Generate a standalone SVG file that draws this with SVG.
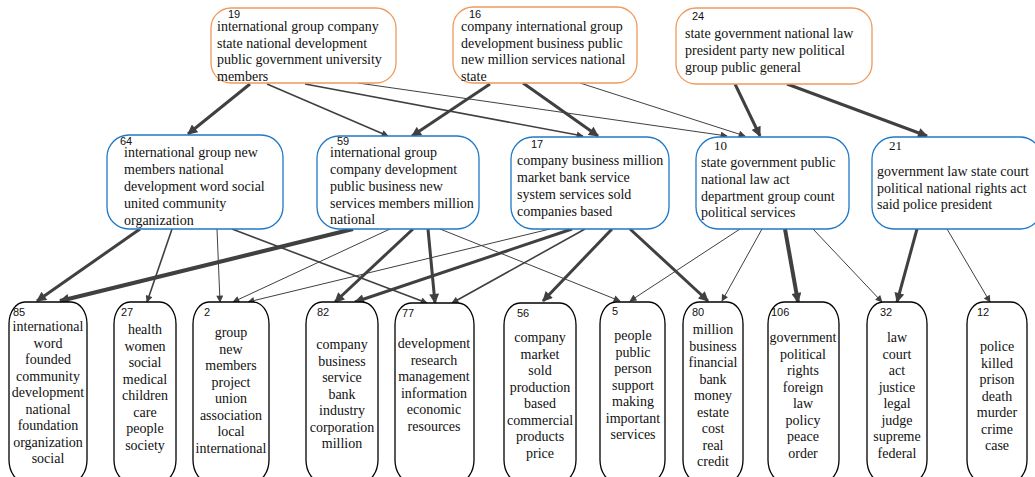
<svg xmlns="http://www.w3.org/2000/svg" width="1035" height="477" viewBox="0 0 1035 477">
<style>
.top{fill:#fff;stroke:#EE9A5C;stroke-width:1.3}
.mid{fill:#fff;stroke:#1F78C8;stroke-width:1.3}
.bot{fill:#fff;stroke:#000;stroke-width:1.3}
.t{font-family:"Liberation Serif","Times New Roman",serif;font-size:14px;fill:#111}
.c{text-anchor:middle}
.n{font-family:"Liberation Sans",Arial,sans-serif;font-size:11px;fill:#111}
.ns{font-family:"Liberation Serif",serif;font-size:13px;fill:#111}
#edges line{stroke:#404040;fill:none}
.e1{stroke-width:1;marker-end:url(#as)}
.e2{stroke-width:1.6;marker-end:url(#as)}
.e3{stroke-width:3;marker-end:url(#ab)}
.e4{stroke-width:4;marker-end:url(#ab)}
</style>
<defs>
<marker id="as" viewBox="0 0 10 10" refX="9" refY="5" markerUnits="userSpaceOnUse" markerWidth="8" markerHeight="7" orient="auto"><path d="M0,0 L10,5 L0,10 z" fill="#404040"/></marker>
<marker id="ab" viewBox="0 0 10 10" refX="9" refY="5" markerUnits="userSpaceOnUse" markerWidth="11" markerHeight="10" orient="auto"><path d="M0,0 L10,5 L0,10 z" fill="#404040"/></marker>
</defs>
<rect width="1035" height="477" fill="#fff"/>
<g id="edges">
<line class="e3" x1="250" y1="84" x2="188" y2="134"/>
<line class="e2" x1="267" y1="84" x2="388" y2="136"/>
<line class="e2" x1="305" y1="84" x2="583" y2="136"/>
<line class="e1" x1="358" y1="83" x2="727" y2="136"/>
<line class="e3" x1="490" y1="84" x2="412" y2="136"/>
<line class="e3" x1="523" y1="83" x2="598" y2="136"/>
<line class="e1" x1="580" y1="83" x2="745" y2="136"/>
<line class="e3" x1="735" y1="84" x2="760" y2="136"/>
<line class="e3" x1="787" y1="84" x2="927" y2="136"/>
<line class="e3" x1="140" y1="229" x2="37" y2="301"/>
<line class="e2" x1="172" y1="229" x2="147" y2="302"/>
<line class="e1" x1="217" y1="229" x2="220" y2="302"/>
<line class="e2" x1="232" y1="229" x2="427" y2="303"/>
<line class="e4" x1="353" y1="229" x2="60" y2="301"/>
<line class="e1" x1="390" y1="229" x2="233" y2="302"/>
<line class="e3" x1="413" y1="229" x2="335" y2="302"/>
<line class="e3" x1="428" y1="229" x2="435" y2="303"/>
<line class="e1" x1="440" y1="229" x2="620" y2="301"/>
<line class="e1" x1="550" y1="229" x2="248" y2="302"/>
<line class="e3" x1="572" y1="229" x2="355" y2="302"/>
<line class="e2" x1="585" y1="229" x2="452" y2="303"/>
<line class="e3" x1="612" y1="229" x2="543" y2="301"/>
<line class="e3" x1="630" y1="229" x2="708" y2="301"/>
<line class="e1" x1="740" y1="229" x2="630" y2="301"/>
<line class="e1" x1="762" y1="229" x2="722" y2="301"/>
<line class="e4" x1="785" y1="229" x2="798" y2="302"/>
<line class="e1" x1="813" y1="229" x2="882" y2="302"/>
<line class="e3" x1="917" y1="229" x2="897" y2="302"/>
<line class="e1" x1="947" y1="229" x2="990" y2="302"/>
</g>
<g id="n19"><rect class="top" x="211" y="8" width="185" height="75" rx="20"/>
<text class="n" x="228" y="18">19</text>
<text class="t"><tspan x="217" y="31">international group company</tspan><tspan x="217" y="47.5">state national development</tspan><tspan x="217" y="64">public government university</tspan><tspan x="217" y="80.5">members</tspan></text></g>
<g id="n16"><rect class="top" x="453" y="7" width="184" height="76" rx="20"/>
<text class="n" x="469" y="18">16</text>
<text class="t"><tspan x="461" y="31">company international group</tspan><tspan x="461" y="47.5">development business public</tspan><tspan x="461" y="64">new million services national</tspan><tspan x="461" y="80.5">state</tspan></text></g>
<g id="n24"><rect class="top" x="676" y="8" width="196" height="76" rx="20"/>
<text class="n" x="692" y="20">24</text>
<text class="t"><tspan x="685" y="38">state government national law</tspan><tspan x="685" y="55">president party new political</tspan><tspan x="685" y="72">group public general</tspan></text></g>
<g id="n64"><rect class="mid" x="107" y="135" width="176" height="94" rx="22"/>
<text class="n" x="120" y="145">64</text>
<text class="t"><tspan x="124" y="157">international group new</tspan><tspan x="124" y="174">members national</tspan><tspan x="124" y="191">development word social</tspan><tspan x="124" y="208">united community</tspan><tspan x="124" y="225">organization</tspan></text></g>
<g id="n59"><rect class="mid" x="317" y="136" width="162" height="93" rx="22"/>
<text class="n" x="337" y="145">59</text>
<text class="t"><tspan x="330" y="157">international group</tspan><tspan x="330" y="174">company development</tspan><tspan x="330" y="191">public business new</tspan><tspan x="330" y="208">services members million</tspan><tspan x="330" y="224">national</tspan></text></g>
<g id="n17"><rect class="mid" x="511" y="137" width="158" height="92" rx="22"/>
<text class="n" x="531" y="148">17</text>
<text class="t"><tspan x="517" y="165">company business million</tspan><tspan x="517" y="182">market bank service</tspan><tspan x="517" y="199">system services sold</tspan><tspan x="517" y="216">companies based</tspan></text></g>
<g id="n10"><rect class="mid" x="696" y="137" width="153" height="92" rx="22"/>
<text class="ns" x="714" y="150">10</text>
<text class="t"><tspan x="701" y="167">state government public</tspan><tspan x="701" y="184">national law act</tspan><tspan x="701" y="201">department group count</tspan><tspan x="701" y="217">political services</tspan></text></g>
<g id="n21"><rect class="mid" x="872" y="137" width="170" height="92" rx="22"/>
<text class="ns" x="889" y="150">21</text>
<text class="t"><tspan x="877" y="176">government law state court</tspan><tspan x="877" y="193">political national rights act</tspan><tspan x="877" y="209">said police president</tspan></text></g>
<g id="n85"><rect class="bot" x="9" y="302" width="78" height="180" rx="16" ry="22"/>
<text class="n" x="13" y="316">85</text>
<text class="t c"><tspan x="48" y="331">international</tspan><tspan x="48" y="347.5">word</tspan><tspan x="48" y="364">founded</tspan><tspan x="48" y="380.5">community</tspan><tspan x="48" y="397">development</tspan><tspan x="48" y="413.5">national</tspan><tspan x="48" y="430">foundation</tspan><tspan x="48" y="446.5">organization</tspan><tspan x="48" y="463">social</tspan></text></g>
<g id="n27"><rect class="bot" x="114" y="302" width="62" height="180" rx="16" ry="22"/>
<text class="n" x="121" y="316">27</text>
<text class="t c"><tspan x="145" y="334">health</tspan><tspan x="145" y="350.5">women</tspan><tspan x="145" y="367">social</tspan><tspan x="145" y="383.5">medical</tspan><tspan x="145" y="400">children</tspan><tspan x="145" y="416.5">care</tspan><tspan x="145" y="433">people</tspan><tspan x="145" y="449.5">society</tspan></text></g>
<g id="n2"><rect class="bot" x="193" y="302" width="76" height="180" rx="16" ry="22"/>
<text class="n" x="204" y="316">2</text>
<text class="t c"><tspan x="231" y="337">group</tspan><tspan x="231" y="353.5">new</tspan><tspan x="231" y="370">members</tspan><tspan x="231" y="386.5">project</tspan><tspan x="231" y="403">union</tspan><tspan x="231" y="419.5">association</tspan><tspan x="231" y="436">local</tspan><tspan x="231" y="452.5">international</tspan></text></g>
<g id="n82"><rect class="bot" x="306" y="302" width="72" height="180" rx="16" ry="22"/>
<text class="n" x="317" y="316">82</text>
<text class="t c"><tspan x="342" y="349">company</tspan><tspan x="342" y="365.5">business</tspan><tspan x="342" y="382">service</tspan><tspan x="342" y="398.5">bank</tspan><tspan x="342" y="415">industry</tspan><tspan x="342" y="431.5">corporation</tspan><tspan x="342" y="448">million</tspan></text></g>
<g id="n77"><rect class="bot" x="395" y="303" width="79" height="179" rx="16" ry="22"/>
<text class="n" x="402" y="317">77</text>
<text class="t c"><tspan x="434" y="348">development</tspan><tspan x="434" y="364.5">research</tspan><tspan x="434" y="381">management</tspan><tspan x="434" y="397.5">information</tspan><tspan x="434" y="414">economic</tspan><tspan x="434" y="430.5">resources</tspan></text></g>
<g id="n56"><rect class="bot" x="504" y="303" width="72" height="179" rx="16" ry="22"/>
<text class="n" x="517" y="317">56</text>
<text class="t c"><tspan x="540" y="342">company</tspan><tspan x="540" y="358.5">market</tspan><tspan x="540" y="375">sold</tspan><tspan x="540" y="391.5">production</tspan><tspan x="540" y="408">based</tspan><tspan x="540" y="424.5">commercial</tspan><tspan x="540" y="441">products</tspan><tspan x="540" y="457.5">price</tspan></text></g>
<g id="n5"><rect class="bot" x="600" y="302" width="65" height="180" rx="16" ry="22"/>
<text class="n" x="612" y="315">5</text>
<text class="t c"><tspan x="633" y="340">people</tspan><tspan x="633" y="356.5">public</tspan><tspan x="633" y="373">person</tspan><tspan x="633" y="389.5">support</tspan><tspan x="633" y="406">making</tspan><tspan x="633" y="422.5">important</tspan><tspan x="633" y="439">services</tspan></text></g>
<g id="n80"><rect class="bot" x="683" y="302" width="60" height="180" rx="16" ry="22"/>
<text class="n" x="692" y="316">80</text>
<text class="t c"><tspan x="713" y="334">million</tspan><tspan x="713" y="350.5">business</tspan><tspan x="713" y="367">financial</tspan><tspan x="713" y="383.5">bank</tspan><tspan x="713" y="400">money</tspan><tspan x="713" y="416.5">estate</tspan><tspan x="713" y="433">cost</tspan><tspan x="713" y="449.5">real</tspan><tspan x="713" y="466">credit</tspan></text></g>
<g id="n106"><rect class="bot" x="768" y="302" width="71" height="180" rx="16" ry="22"/>
<text class="n" x="771" y="316">106</text>
<text class="t c"><tspan x="803" y="342">government</tspan><tspan x="803" y="358.5">political</tspan><tspan x="803" y="375">rights</tspan><tspan x="803" y="391.5">foreign</tspan><tspan x="803" y="408">law</tspan><tspan x="803" y="424.5">policy</tspan><tspan x="803" y="441">peace</tspan><tspan x="803" y="457.5">order</tspan></text></g>
<g id="n32"><rect class="bot" x="867" y="302" width="60" height="180" rx="16" ry="22"/>
<text class="n" x="880" y="316">32</text>
<text class="t c"><tspan x="897" y="342">law</tspan><tspan x="897" y="358.5">court</tspan><tspan x="897" y="375">act</tspan><tspan x="897" y="391.5">justice</tspan><tspan x="897" y="408">legal</tspan><tspan x="897" y="424.5">judge</tspan><tspan x="897" y="441">supreme</tspan><tspan x="897" y="457.5">federal</tspan></text></g>
<g id="n12"><rect class="bot" x="967" y="302" width="60" height="180" rx="16" ry="22"/>
<text class="n" x="977" y="316">12</text>
<text class="t c"><tspan x="997" y="351">police</tspan><tspan x="997" y="367.5">killed</tspan><tspan x="997" y="384">prison</tspan><tspan x="997" y="400.5">death</tspan><tspan x="997" y="417">murder</tspan><tspan x="997" y="433.5">crime</tspan><tspan x="997" y="450">case</tspan></text></g>
</svg>
